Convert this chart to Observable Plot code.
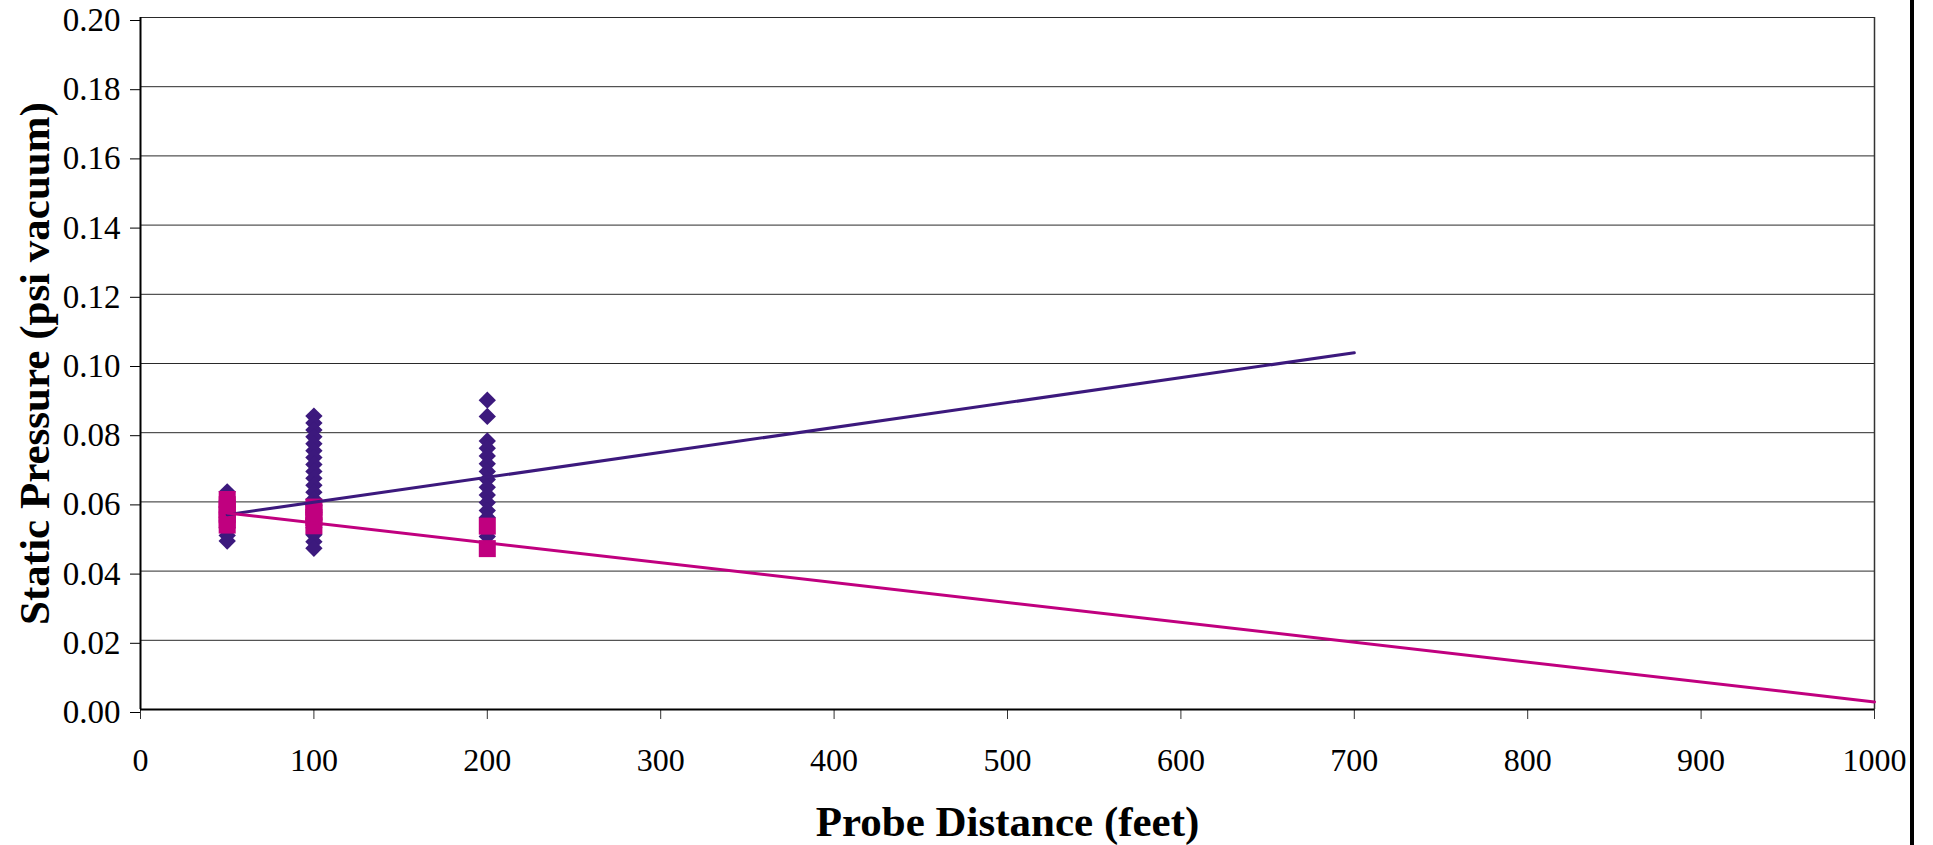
<!DOCTYPE html>
<html>
<head>
<meta charset="utf-8">
<script src="https://cdn.jsdelivr.net/npm/d3@7"></script>
<script src="https://cdn.jsdelivr.net/npm/@observablehq/plot@0.6"></script>
<style>
html, body { margin: 0; padding: 0; background: #fff; }
#wrap { position: relative; width: 1933px; height: 845px; overflow: hidden; }
#wrap svg { position: absolute; left: 0; top: 0; }
#bar { position: absolute; left: 1910px; top: 0; width: 4px; height: 845px; background: #000; }
</style>
</head>
<body>
<div id="wrap"><div id="bar"></div></div>
<script>
// ---- data ----
const xTicks = [0, 100, 200, 300, 400, 500, 600, 700, 800, 900, 1000];
const yTicks = [0, 0.02, 0.04, 0.06, 0.08, 0.10, 0.12, 0.14, 0.16, 0.18, 0.20];

const diamonds50  = [0.0629, 0.0605, 0.0585, 0.0565, 0.0545, 0.0525, 0.0503, 0.0487];
const diamonds100 = [0.0848, 0.0828, 0.0808, 0.0788, 0.0768, 0.0748, 0.0728, 0.0708, 0.0688, 0.0668,
                     0.0648, 0.0628, 0.0608, 0.0590, 0.0570, 0.0550, 0.0525, 0.0505, 0.0485, 0.0466];
const diamonds200 = [0.0894, 0.0847, 0.0776, 0.0755, 0.0733, 0.0710, 0.0688, 0.0665, 0.0642, 0.0620,
                     0.0598, 0.0575, 0.0555, 0.0500];

const squares50  = [0.0607, 0.0592, 0.0578, 0.0563, 0.0548, 0.0533];
const squares100 = [0.0585, 0.0570, 0.0555, 0.0531];
const squares200 = [0.0530, 0.0465];

const purpleTrendX = [50, 700];
const purpleTrendY = [0.0563, 0.1031];
const magentaTrendX = [50, 1000];
const magentaTrendY = [0.0568, 0.0022];

const xTitle = "Probe Distance (feet)";
const yTitle = "Static Pressure (psi vacuum)";

const purple = "#3c197d";
const magenta = "#c0007f";

// ---- tables built from the arrays ----
const toPts = (dist, vals) => vals.map(v => ({x: dist, y: v}));
const diamonds = [...toPts(50, diamonds50), ...toPts(100, diamonds100), ...toPts(200, diamonds200)];
const squares = [...toPts(50, squares50), ...toPts(100, squares100), ...toPts(200, squares200)];
const purpleTrend = purpleTrendX.map((x, i) => ({x, y: purpleTrendY[i]}));
const magentaTrend = magentaTrendX.map((x, i) => ({x, y: magentaTrendY[i]}));

const xDomain = [xTicks[0], xTicks[xTicks.length - 1]];
const yDomain = [yTicks[0], yTicks[yTicks.length - 1]];

const chart = Plot.plot({
  width: 1933,
  height: 845,
  marginLeft: 140,
  marginRight: 59,
  marginTop: 17,
  marginBottom: 136,
  style: {fontFamily: "'Liberation Serif', 'Times New Roman', serif", background: "transparent", color: "#000", overflow: "visible"},
  x: {domain: xDomain},
  y: {domain: yDomain},
  marks: [
    Plot.gridY(yTicks, {stroke: "#2a2a2a", strokeOpacity: 1, strokeWidth: 1}),
    Plot.ruleX([xDomain[1]], {stroke: "#333", strokeWidth: 1.5}),
    Plot.axisY(yTicks, {tickFormat: d3.format(".2f"), tickSize: 10, tickPadding: 10, fontSize: 33, label: null, dy: 3, stroke: "#000"}),
    Plot.axisX(xTicks, {tickFormat: d => String(d), tickSize: 10, tickPadding: 29, fontSize: 32, label: null, stroke: "#333"}),
    Plot.ruleX([xDomain[0]], {stroke: "#000", strokeWidth: 2}),
    Plot.ruleY([yDomain[0]], {stroke: "#000", strokeWidth: 2}),
    Plot.dot(diamonds, {x: "x", y: "y", symbol: "diamond2", r: 7.8, fill: purple, stroke: null}),
    Plot.dot(squares, {x: "x", y: "y", symbol: "square", r: 9.6, fill: magenta, stroke: null}),
    Plot.line(purpleTrend, {x: "x", y: "y", stroke: purple, strokeWidth: 3}),
    Plot.line(magentaTrend, {x: "x", y: "y", stroke: magenta, strokeWidth: 3}),
    Plot.text([xTitle], {frameAnchor: "bottom", text: d => d, textAnchor: "middle", lineAnchor: "middle", dy: 113, fontSize: 43, fontWeight: "bold", fill: "#000"}),
    Plot.text([yTitle], {frameAnchor: "left", text: d => d, textAnchor: "middle", lineAnchor: "middle", rotate: -90, dx: -105, fontSize: 43, fontWeight: "bold", fill: "#000"})
  ]
});
document.getElementById("wrap").insertBefore(chart, document.getElementById("bar"));
</script>
</body>
</html>
